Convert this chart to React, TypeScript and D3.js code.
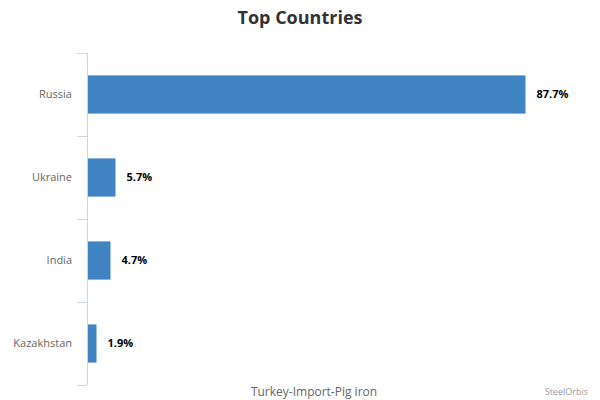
import * as d3 from 'd3';

const categories = ['Russia', 'Ukraine', 'India', 'Kazakhstan'];
const shares = [87.7, 5.7, 4.7, 1.9];

const width = 600;
const height = 400;
const margin = { top: 53, right: 13, bottom: 15, left: 87 };

const App = () => {
  const x = d3
    .scaleLinear()
    .domain([0, 100])
    .range([margin.left, width - margin.right]);

  const y = d3
    .scaleBand<string>()
    .domain(categories)
    .range([margin.top, height - margin.bottom])
    .paddingInner(0.54)
    .paddingOuter(0.27);

  // tick marks sit on the band boundaries
  const plotH = height - margin.top - margin.bottom;
  const bandEdges = d3.range(categories.length + 1).map((i) => margin.top + (i * plotH) / categories.length);

  const font = '"Open Sans", "DejaVu Sans", sans-serif';

  return (
    <svg
      width={width}
      height={height}
      style={{ position: 'absolute', left: 0, top: 0 }}
      fontFamily={font}
    >
      <rect width={width} height={height} fill="#fff" />
      <text x={width / 2} y={24} textAnchor="middle" fontSize={18} fontWeight="bold" fill="#333">
        Top Countries
      </text>

      {categories.map((c, i) => (
        <g key={c}>
          <rect x={x(0)} y={y(c)} width={x(shares[i]) - x(0)} height={y.bandwidth()} fill="#3f83c3" />
          <text x={x(0) - 15} y={(y(c) ?? 0) + y.bandwidth() / 2} dy="0.35em" textAnchor="end" fontSize={11} fill="#666">
            {c}
          </text>
          <text x={x(shares[i]) + 11} y={(y(c) ?? 0) + y.bandwidth() / 2} dy="0.35em" fontSize={11} fontWeight="bold" fill="#000">
            {shares[i].toFixed(1)}%
          </text>
        </g>
      ))}

      <line x1={x(0) + 0.5} x2={x(0) + 0.5} y1={margin.top} y2={height - margin.bottom} stroke="#ccd6eb" />
      {bandEdges.map((e, i) => (
        <line key={i} x1={x(0) - 10} x2={x(0)} y1={Math.round(e) + 0.5} y2={Math.round(e) + 0.5} stroke="#ccd6eb" />
      ))}

      <text x={314} y={396} textAnchor="middle" fontSize={12} fill="#666">
        Turkey-Import-Pig iron
      </text>
      <text x={588} y={395} textAnchor="end" fontSize={9} fill="#999">
        SteelOrbis
      </text>
    </svg>
  );
};

export default App;
